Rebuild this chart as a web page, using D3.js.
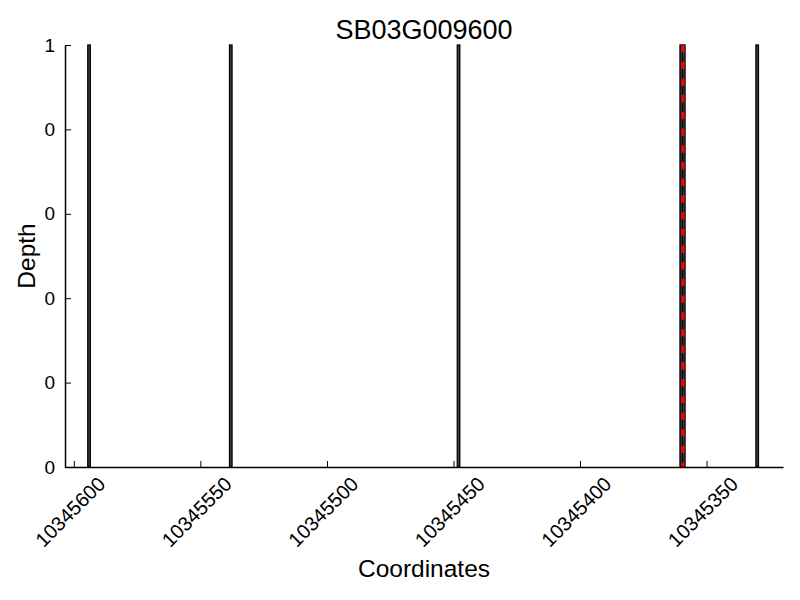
<!DOCTYPE html>
<html>
<head>
<meta charset="utf-8">
<script src="https://cdn.jsdelivr.net/npm/d3@7"></script>
<style>
  body { margin: 0; background: #fff; }
  text { font-family: "Liberation Sans", Arial, Helvetica, sans-serif; }
</style>
</head>
<body>
<svg width="800" height="600"></svg>
<script>
// data
var title = "SB03G009600";
var positions = [10345594, 10345538, 10345448, 10345360, 10345359, 10345330];
var depths = [1, 1, 1, 1, 1, 1];
var markerPos = [10345359.3];
var xTicks = [10345600, 10345550, 10345500, 10345450, 10345400, 10345350];
var yTicks = [0, 0.2, 0.4, 0.6, 0.8, 1];
var yTickLabels = ["0", "0", "0", "0", "0", "1"];

var svg = d3.select("svg"),
    margin = {top: 45, right: 17, bottom: 133, left: 65},
    width = +svg.attr("width") - margin.left - margin.right,
    height = +svg.attr("height") - margin.top - margin.bottom;

// reversed coordinate axis
var x = d3.scaleLinear()
    .domain([10345603.5, 10345319.8])
    .range([0, width]);

var y = d3.scaleLinear()
    .domain([0, 1])
    .range([height, 0]);

var g = svg.append("g")
    .attr("transform", "translate(" + margin.left + "," + margin.top + ")");

var bars = positions.map(function(p, i) { return {pos: p, depth: depths[i]}; });

g.append("g")
    .attr("class", "bars")
  .selectAll("rect")
  .data(bars)
  .enter().append("rect")
    .attr("x", function(d) { return x(d.pos + 0.5); })
    .attr("y", function(d) { return y(d.depth); })
    .attr("width", function(d) { return x(d.pos - 0.5) - x(d.pos + 0.5); })
    .attr("height", function(d) { return y(0) - y(d.depth); })
    .attr("fill", "#444")
    .attr("stroke", "#000")
    .attr("stroke-width", 1.3);

g.append("g")
  .selectAll("line")
  .data(markerPos)
  .enter().append("line")
    .attr("x1", function(d) { return x(d); })
    .attr("x2", function(d) { return x(d); })
    .attr("y1", 0)
    .attr("y2", height)
    .attr("stroke", "#ff0000")
    .attr("stroke-width", 3)
    .attr("stroke-dasharray", "7.5,9.2");

// axes, ticks point inward
var xAxis = g.append("g")
    .attr("transform", "translate(0," + height + ")")
    .call(d3.axisBottom(x).tickValues(xTicks).tickSize(-6).tickSizeOuter(0).tickFormat(d3.format("d")));

xAxis.select(".domain").attr("stroke-width", 1.5);
xAxis.selectAll(".tick text")
    .attr("font-size", 20)
    .attr("fill", "#000")
    .attr("text-anchor", "middle")
    .attr("dy", null)
    .attr("y", 0)
    .attr("transform", "translate(-3,46) rotate(-45)")
    .attr("dominant-baseline", "middle");

var yAxis = g.append("g")
    .call(d3.axisLeft(y).tickValues(yTicks).tickSize(-6).tickSizeOuter(0)
      .tickFormat(function(d, i) { return yTickLabels[i]; }));

yAxis.select(".domain").attr("stroke-width", 1.5);
yAxis.selectAll(".tick text")
    .attr("font-size", 19)
    .attr("fill", "#000")
    .attr("x", -10);

svg.append("text")
    .attr("x", margin.left + width / 2)
    .attr("y", 39)
    .attr("text-anchor", "middle")
    .attr("font-size", 27)
    .text(title);

svg.append("text")
    .attr("x", margin.left + width / 2)
    .attr("y", 577)
    .attr("text-anchor", "middle")
    .attr("font-size", 24.5)
    .text("Coordinates");

svg.append("text")
    .attr("transform", "translate(35," + (margin.top + height / 2) + ") rotate(-90)")
    .attr("text-anchor", "middle")
    .attr("font-size", 24.5)
    .text("Depth");
</script>
</body>
</html>
